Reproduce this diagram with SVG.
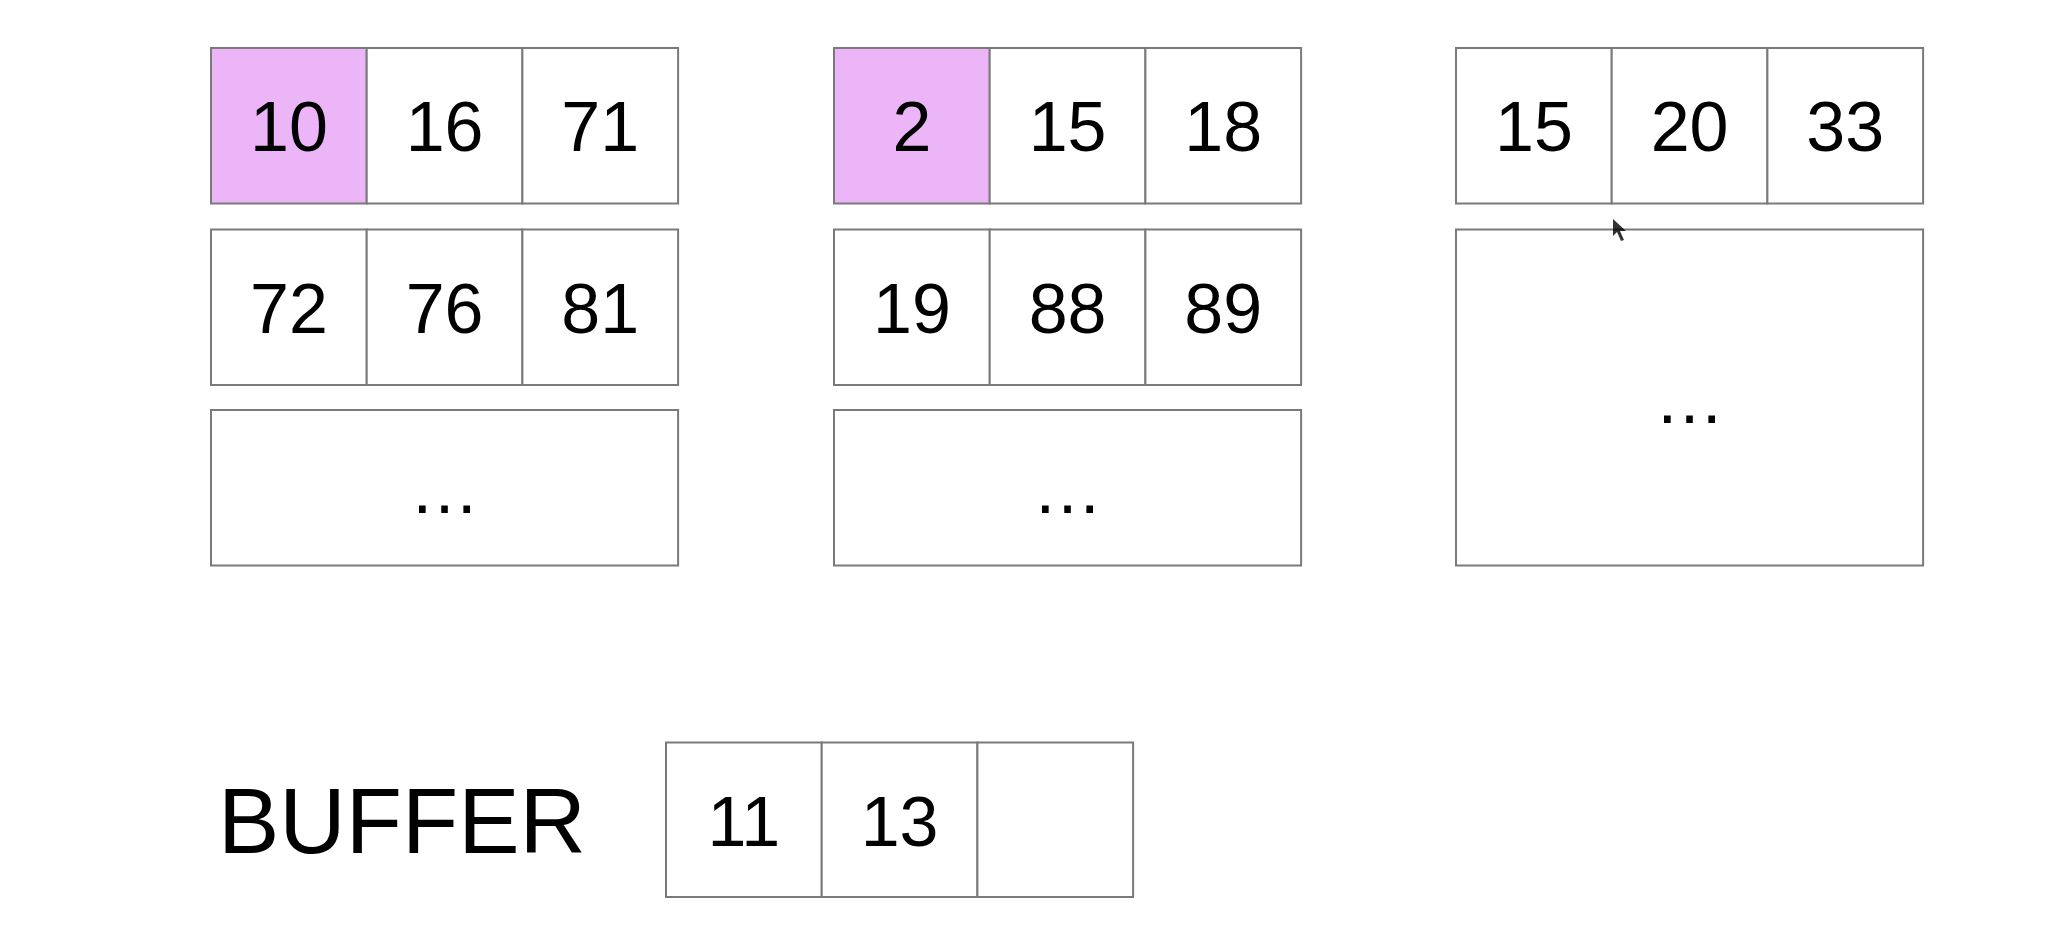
<svg xmlns="http://www.w3.org/2000/svg" width="2064" height="936" viewBox="0 0 2064 936">
<style>
.c{fill:#fff;stroke:#7a7a7a;stroke-width:2}
.h{fill:#ecb5f8;stroke:#7a7a7a;stroke-width:2}
.t{font-family:"Liberation Sans",Arial,Helvetica,sans-serif;font-size:70px;fill:#000;text-anchor:middle}
.b{font-family:"Liberation Sans",Arial,Helvetica,sans-serif;font-size:92px;fill:#000}
</style>
<rect width="2064" height="936" fill="#fff"/>
<g id="run1">
<g id="r1-row1">
<rect class="h" x="211" y="48" width="155.7" height="155.5"/>
<rect class="c" x="366.7" y="48" width="155.7" height="155.5"/>
<rect class="c" x="522.4" y="48" width="155.7" height="155.5"/>
<text class="t" x="288.9" y="151">10</text>
<text class="t" x="444.6" y="151">16</text>
<text class="t" x="600.3" y="151">71</text>
</g>
<g id="r1-row2">
<rect class="c" x="211" y="229.5" width="155.7" height="155.5"/>
<rect class="c" x="366.7" y="229.5" width="155.7" height="155.5"/>
<rect class="c" x="522.4" y="229.5" width="155.7" height="155.5"/>
<text class="t" x="288.9" y="332.5">72</text>
<text class="t" x="444.6" y="332.5">76</text>
<text class="t" x="600.3" y="332.5">81</text>
</g>
<g id="r1-row3">
<rect class="c" x="211" y="410" width="467.1" height="155.5"/>
<text class="t" x="444.6" y="513">…</text>
</g>
</g>
<g id="run2">
<g id="r2-row1">
<rect class="h" x="834" y="48" width="155.7" height="155.5"/>
<rect class="c" x="989.7" y="48" width="155.7" height="155.5"/>
<rect class="c" x="1145.4" y="48" width="155.7" height="155.5"/>
<text class="t" x="911.9" y="151">2</text>
<text class="t" x="1067.6" y="151">15</text>
<text class="t" x="1223.3" y="151">18</text>
</g>
<g id="r2-row2">
<rect class="c" x="834" y="229.5" width="155.7" height="155.5"/>
<rect class="c" x="989.7" y="229.5" width="155.7" height="155.5"/>
<rect class="c" x="1145.4" y="229.5" width="155.7" height="155.5"/>
<text class="t" x="911.9" y="332.5">19</text>
<text class="t" x="1067.6" y="332.5">88</text>
<text class="t" x="1223.3" y="332.5">89</text>
</g>
<g id="r2-row3">
<rect class="c" x="834" y="410" width="467.1" height="155.5"/>
<text class="t" x="1067.6" y="513">…</text>
</g>
</g>
<g id="run3">
<g id="r3-row1">
<rect class="c" x="1456" y="48" width="155.7" height="155.5"/>
<rect class="c" x="1611.7" y="48" width="155.7" height="155.5"/>
<rect class="c" x="1767.4" y="48" width="155.7" height="155.5"/>
<text class="t" x="1533.9" y="151">15</text>
<text class="t" x="1689.6" y="151">20</text>
<text class="t" x="1845.3" y="151">33</text>
</g>
<g id="r3-rest">
<rect class="c" x="1456" y="229.5" width="467.1" height="336"/>
<text class="t" x="1689.6" y="423">…</text>
</g>
</g>
<g id="buffer">
<text class="b" x="218" y="852.5">BUFFER</text>
<rect class="c" x="666" y="742.5" width="155.7" height="154.5"/>
<rect class="c" x="821.7" y="742.5" width="155.7" height="154.5"/>
<rect class="c" x="977.4" y="742.5" width="155.7" height="154.5"/>
<text class="t" x="743.9" y="846">11</text>
<text class="t" x="899.6" y="846">13</text>
</g>
<g id="connectors"></g>
<path d="M1613,219 L1613,236 L1617,232 L1621,241 L1624,240 L1620,231 L1626,231 Z" fill="#000" opacity="0.8"/>
</svg>
